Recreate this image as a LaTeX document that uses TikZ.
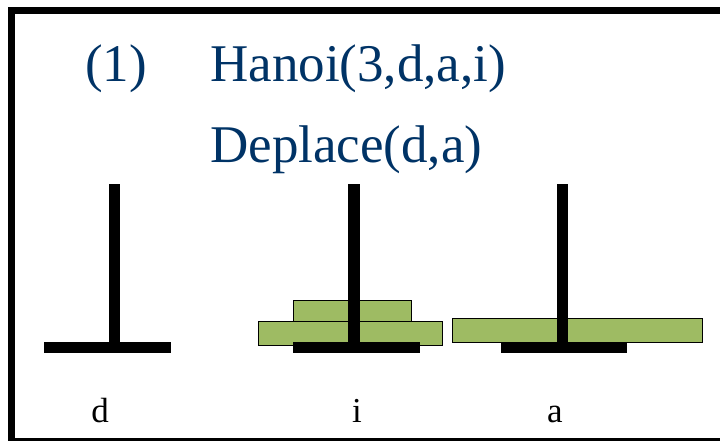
\documentclass[tikz,border=0pt]{standalone}
\usepackage{fontspec}
\setmainfont{Liberation Serif}
\definecolor{navy}{RGB}{0,51,102}
\definecolor{diskgreen}{RGB}{158,187,99}
\tikzset{
  title/.style={anchor=base west, inner sep=0pt, text=navy, font=\fontsize{53}{60}\selectfont},
  lbl/.style={anchor=base, inner sep=0pt, font=\fontsize{35}{40}\selectfont},
  disk/.style={fill=diskgreen, draw=black, line width=1pt},
  pole/.style={fill=black, draw=none}
}
\begin{document}
\begin{tikzpicture}[x=1pt,y=-1pt]
\useasboundingbox (0,0) rectangle (720,441);
% frame
\draw[line width=7pt] (720,10.5) -- (11.5,10.5) -- (11.5,441);
\draw[line width=2.5pt] (11.5,439.5) -- (720,439.5);
% texts
\node[title] (num) at (85,82) {(1)};
\node[title] (hanoi) at (210,82) {Hanoi(3,d,a,i)};
\node[title] (depl) at (210,163) {Deplace(d,a)};
% disks
\draw[disk] (293,300) rectangle (411,324);
\draw[disk] (258,321) rectangle (442,345);
\draw[disk] (452,318) rectangle (702,342);
% pegs
\fill[pole] (109,184) rectangle (120,342);
\fill[pole] (44,342) rectangle (171,353);
\fill[pole] (348,184) rectangle (360,342);
\fill[pole] (293,342) rectangle (420,353);
\fill[pole] (557,184) rectangle (568,342);
\fill[pole] (501,342) rectangle (627,353);
% labels
\node[lbl] (ld) at (100,422) {d};
\node[lbl] (li) at (357,422) {i};
\node[lbl] (la) at (555,422) {a};
\end{tikzpicture}
\end{document}
